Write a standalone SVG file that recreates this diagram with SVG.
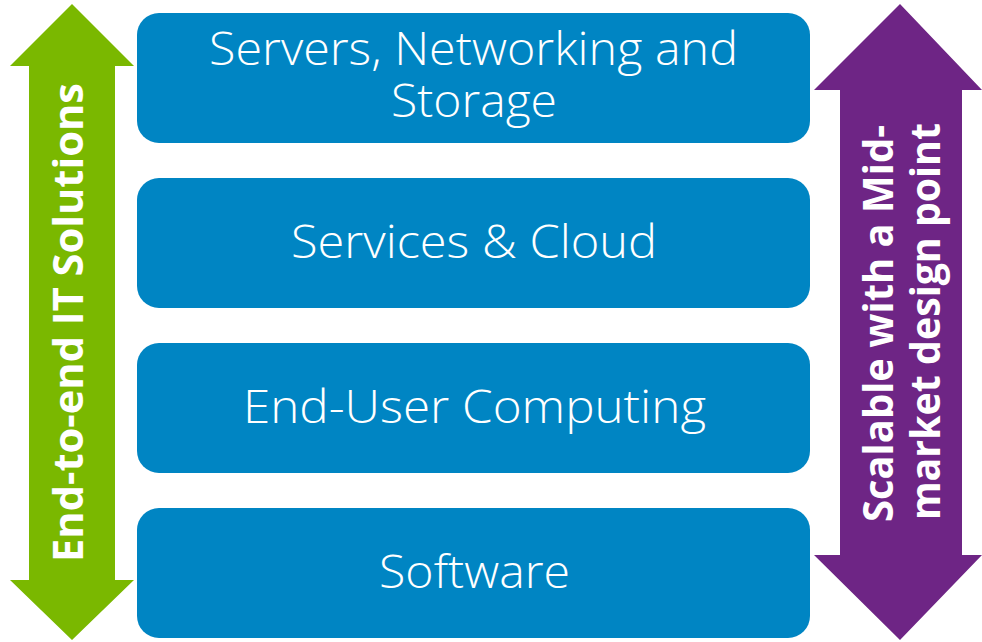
<svg xmlns="http://www.w3.org/2000/svg" width="982" height="642" viewBox="0 0 982 642">
<style>
.box{fill:#0085C3}
.bt{fill:#fff;font-family:"Open Sans","Liberation Sans",sans-serif;font-size:46px;font-weight:300;text-anchor:middle}
.at{fill:#fff;font-family:"Open Sans","Liberation Sans",sans-serif;font-size:42px;font-weight:700;text-anchor:middle}
</style>
<rect width="982" height="642" fill="#fff"/>
<g id="arrow-left">
<polygon fill="#7AB800" points="72,4 134,66 115,66 115,580 134,580 72,640 10,580 29,580 29,66 10,66"/>
<text class="at" transform="translate(83,322.5) rotate(-90)" textLength="479" lengthAdjust="spacingAndGlyphs">End-to-end IT Solutions</text>
</g>
<g id="arrow-right">
<polygon fill="#6E2585" points="900,4 982,90 962,90 962,555 982,555 900,640 814,555 840,555 840,90 814,90"/>
<text class="at" transform="translate(893,323.5) rotate(-90)" textLength="397" lengthAdjust="spacingAndGlyphs">Scalable with a Mid-</text>
<text class="at" transform="translate(940,321.5) rotate(-90)" textLength="397" lengthAdjust="spacingAndGlyphs">market design point</text>
</g>
<g id="box1"><rect class="box" x="137" y="13" width="673" height="130" rx="22"/>
<text class="bt" x="473.5" y="65" textLength="529" lengthAdjust="spacingAndGlyphs">Servers, Networking and</text><text class="bt" x="474" y="117" textLength="166" lengthAdjust="spacingAndGlyphs">Storage</text></g>
<g id="box2"><rect class="box" x="137" y="178" width="673" height="130" rx="22"/>
<text class="bt" x="474" y="258" textLength="366" lengthAdjust="spacingAndGlyphs">Services &amp; Cloud</text></g>
<g id="box3"><rect class="box" x="137" y="343" width="673" height="130" rx="22"/>
<text class="bt" x="474.5" y="423" textLength="463" lengthAdjust="spacingAndGlyphs">End-User Computing</text></g>
<g id="box4"><rect class="box" x="137" y="508" width="673" height="130" rx="22"/>
<text class="bt" x="474.5" y="588" textLength="191" lengthAdjust="spacingAndGlyphs">Software</text></g>
<g id="connectors"></g>
</svg>
